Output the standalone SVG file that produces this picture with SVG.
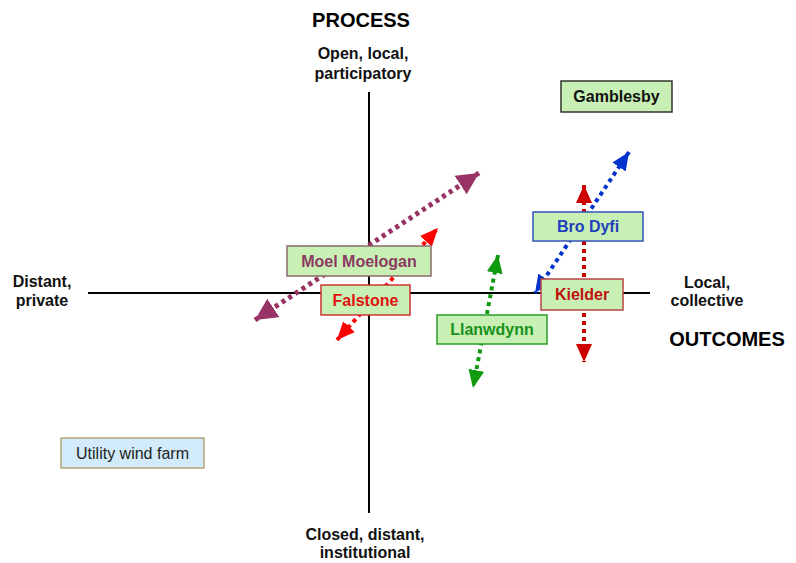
<svg xmlns="http://www.w3.org/2000/svg" width="796" height="563" viewBox="0 0 796 563">
<style>
.lbl{font-family:"Liberation Sans",Arial,sans-serif;font-weight:bold;font-size:16px;fill:#111;text-anchor:middle}
.ttl{font-family:"Liberation Sans",Arial,sans-serif;font-weight:bold;font-size:20px;fill:#000;text-anchor:middle}
.axis{stroke:#000;stroke-width:2;fill:none}
.box{fill:#c8f0b4;stroke-width:1.5}
.btxt{font-family:"Liberation Sans",Arial,sans-serif;font-weight:bold;font-size:16px;text-anchor:middle}
.arr{fill:none;stroke-dasharray:4 4}
</style>
<defs>
<marker id="hm" markerUnits="userSpaceOnUse" viewBox="0 0 22 22" markerWidth="22" markerHeight="22" refX="22" refY="11" orient="auto-start-reverse"><path d="M0,0 L22,11 L0,22 z" fill="#993366"/></marker>
<marker id="hr" markerUnits="userSpaceOnUse" viewBox="0 0 18 16" markerWidth="18" markerHeight="16" refX="18" refY="8" orient="auto-start-reverse"><path d="M0,0 L18,8 L0,16 z" fill="#ff0000"/></marker>
<marker id="hk" markerUnits="userSpaceOnUse" viewBox="0 0 18 16" markerWidth="18" markerHeight="16" refX="18" refY="8" orient="auto-start-reverse"><path d="M0,0 L18,8 L0,16 z" fill="#cc0000"/></marker>
<marker id="hb" markerUnits="userSpaceOnUse" viewBox="0 0 18 16" markerWidth="18" markerHeight="16" refX="18" refY="8" orient="auto-start-reverse"><path d="M0,0 L18,8 L0,16 z" fill="#0033cc"/></marker>
<marker id="hg" markerUnits="userSpaceOnUse" viewBox="0 0 18 16" markerWidth="18" markerHeight="16" refX="18" refY="8" orient="auto-start-reverse"><path d="M0,0 L18,8 L0,16 z" fill="#109a10"/></marker>
</defs>
<rect width="796" height="563" fill="#fff"/>
<g id="axes">
<line class="axis" x1="369" y1="92" x2="369" y2="513"/>
<line class="axis" x1="88" y1="293" x2="650" y2="293"/>
</g>
<g id="labels">
<text class="ttl" x="361" y="27">PROCESS</text>
<text class="lbl" x="363" y="59">Open, local,</text>
<text class="lbl" x="363" y="79">participatory</text>
<text class="lbl" x="42" y="287">Distant,</text>
<text class="lbl" x="42" y="306">private</text>
<text class="lbl" x="707" y="288">Local,</text>
<text class="lbl" x="707" y="306">collective</text>
<text class="ttl" x="727" y="346">OUTCOMES</text>
<text class="lbl" x="365" y="540">Closed, distant,</text>
<text class="lbl" x="365" y="558">institutional</text>
</g>
<g id="connectors">
<line class="arr" x1="255" y1="320" x2="479" y2="173" stroke="#993366" stroke-width="5" marker-start="url(#hm)" marker-end="url(#hm)"/>
<line class="arr" x1="337" y1="340" x2="438" y2="228" stroke="#ff0000" stroke-width="4" marker-start="url(#hr)" marker-end="url(#hr)"/>
<line class="arr" x1="584" y1="185" x2="584" y2="362" stroke="#cc0000" stroke-width="4" marker-start="url(#hk)" marker-end="url(#hk)"/>
<line class="arr" x1="629" y1="152" x2="535" y2="293" stroke="#0033cc" stroke-width="4" marker-start="url(#hb)" marker-end="url(#hb)"/>
<line class="arr" x1="498" y1="255" x2="473" y2="388" stroke="#109a10" stroke-width="4" marker-start="url(#hg)" marker-end="url(#hg)"/>
</g>
<g id="gamblesby">
<rect class="box" x="561" y="81" width="111" height="31" stroke="#333"/>
<text class="btxt" x="616.5" y="102" fill="#111">Gamblesby</text>
</g>
<g id="brodyfi">
<rect class="box" x="533" y="212" width="110" height="29" stroke="#3355bb"/>
<text class="btxt" x="588" y="232" fill="#1f3fbf">Bro Dyfi</text>
</g>
<g id="moelmoelogan">
<rect class="box" x="287" y="246" width="144" height="30" stroke="#8a6a6a"/>
<text class="btxt" x="359" y="267" fill="#8b3a62">Moel Moelogan</text>
</g>
<g id="falstone">
<rect class="box" x="321" y="285" width="89" height="30" stroke="#cc3333"/>
<text class="btxt" x="365.5" y="306" fill="#e01010">Falstone</text>
</g>
<g id="kielder">
<rect class="box" x="541" y="279" width="82" height="31" stroke="#bb4444"/>
<text class="btxt" x="582" y="300" fill="#c01010">Kielder</text>
</g>
<g id="llanwdynn">
<rect class="box" x="437" y="315" width="110" height="29" stroke="#2a9a2a"/>
<text class="btxt" x="492" y="335" fill="#18901a">Llanwdynn</text>
</g>
<g id="utility">
<rect x="61" y="438" width="143" height="30" fill="#d2ebfa" stroke="#a89058" stroke-width="1.2"/>
<text x="132.5" y="459" font-family="'Liberation Sans',Arial,sans-serif" font-size="16" fill="#222" text-anchor="middle">Utility wind farm</text>
</g>
</svg>
